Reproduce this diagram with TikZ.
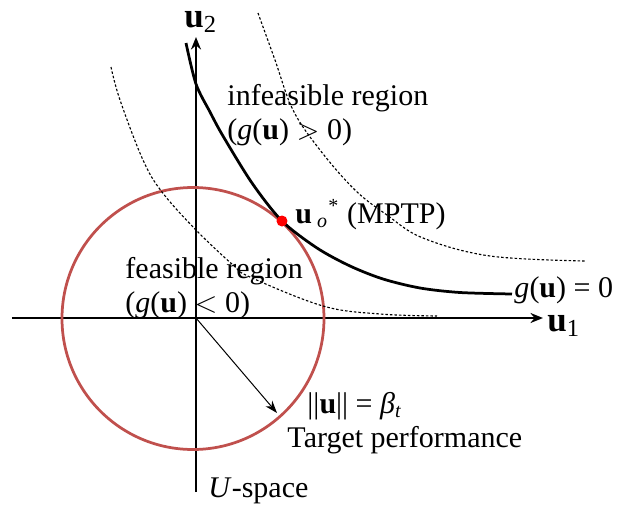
\documentclass[tikz,border=0pt]{standalone}
\usepackage{fontspec}
\setmainfont{Liberation Serif}
\usetikzlibrary{arrows.meta, positioning}
\definecolor{circred}{RGB}{192, 80, 77}
\definecolor{dotred}{RGB}{255, 0, 0}

\begin{document}
\begin{tikzpicture}[x=0.4pt, y=-0.4pt,
  axisline/.style={line width=1.1pt, -{Stealth[length=5pt, width=4pt]}},
  limitline/.style={line width=1.1pt},
  shiftline/.style={line width=0.45pt, dash pattern=on 1pt off 0.8pt},
  lbl/.style={anchor=base west, inner sep=0pt, font=\fontsize{12}{14}\selectfont},
  axlbl/.style={anchor=base west, inner sep=0pt, font=\fontsize{14}{16}\selectfont}]
  \useasboundingbox (0,0) rectangle (629,507);

  % axes of the U-space
  \coordinate (O) at (196,318);
  \coordinate (xl) at (12,318);
  \coordinate (xr) at (543,318);
  \coordinate (yb) at (196,492);
  \coordinate (yt) at (196,37);
  \draw[axisline] (xl) -- (xr);
  \draw[axisline] (yb) -- (yt);
  \node[axlbl] (u1lbl) at (547,331) {\textbf{u}\textsubscript{1}};
  \node[axlbl] (u2lbl) at (184,27) {\textbf{u}\textsubscript{2}};

  % target circle and radius
  \draw[circred, line width=1.1pt] (193,318.5) circle [radius=131];
  \coordinate (rad) at (277,413);
  \draw[line width=0.4pt, -{Stealth[length=5pt, width=3.5pt]}] (O) -- (rad);

  % limit state g(u)=0
  \draw[limitline] plot[smooth, tension=0.5] coordinates {(186,43) (196,84) (210,112)
    (223,136) (252,183) (282,221) (317,248) (350,266) (383,279) (420,288) (460,292.5)
    (512,294)};
  % shifted limit states
  \draw[shiftline] plot[smooth, tension=0.6] coordinates {(258,13) (275,60) (293,110)
    (320,150) (355,190) (387,215) (423,238) (490,256) (585,261)};
  \draw[shiftline] plot[smooth, tension=0.6] coordinates {(111,67) (120,100) (143,160)
    (162,192) (196,230) (233,265) (250,277) (323,306) (380,314) (437,316)};

  % MPTP
  \node[circle, fill=dotred, inner sep=0pt, minimum size=4.4pt] (mptp) at (282,221) {};

  % labels
  \node[lbl] (infeas) at (227,105) {infeasible region};
  \node[lbl] (infeascond) at (227,139) {(\textit{g}(\textbf{u}) $>$ 0)};
  \node[lbl] (feas) at (125,278) {feasible region};
  \node[lbl] (feascond) at (125,312) {(\textit{g}(\textbf{u}) $<$ 0)};
  \node[lbl] (mptplbl) at (295,223) {\textbf{u}\,\textsubscript{\textit{o}}\textsuperscript{*} (MPTP)};
  \node[lbl] (glbl) at (514,297) {\textit{g}(\textbf{u}) = 0};
  \node[lbl] (betalbl) at (307,413) {||\textbf{u}|| = \textit{β}\textsubscript{\textit{t}}};
  \node[lbl] (target) at (287,447) {Target performance};
  \node[lbl] (space) at (208,497) {\textit{U}-space};
\end{tikzpicture}
\end{document}
